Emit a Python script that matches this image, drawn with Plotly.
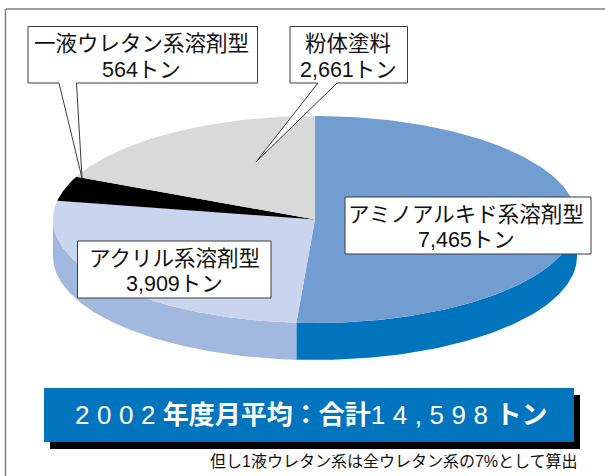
import math
import plotly.graph_objects as go

# Monthly average tonnage by paint type, FY2002
categories = ["アミノアルキド系溶剤型", "アクリル系溶剤型", "一液ウレタン系溶剤型", "粉体塗料"]
tonnes = [7465, 3909, 564, 2661]
total_tonnes = 14598
top_colors = ["#729DD1", "#C9D5EE", "#000000", "#D9D9D9"]
side_colors = ["#0075BE", "#A3B8DE", "#000000", "#D9D9D9"]

WIDTH, HEIGHT = 605, 476
CX, CY, RX, RY, DEPTH = 315, 219.5, 262, 103.5, 37
FONT = "Liberation Sans, Noto Sans CJK JP, sans-serif"


def rim(a0, a1, dy=0.0):
    """Points on the elliptical rim, with angles clockwise from 12 o'clock."""
    n = max(2, int(abs(a1 - a0)))
    angles = [a0 + (a1 - a0) * i / n for i in range(n + 1)]
    return ([CX + RX * math.sin(math.radians(a)) for a in angles],
            [CY - RY * math.cos(math.radians(a)) + dy for a in angles])


# Angular span of every slice, taken from its share of the sum
sum_t = sum(tonnes)
spans, start = [], 0.0
for t in tonnes:
    end = start + 360.0 * t / sum_t
    spans.append((start, end))
    start = end

fig = go.Figure()


def add_poly(xs, ys, color):
    fig.add_trace(go.Scatter(x=xs, y=ys, mode="lines", fill="toself", fillcolor=color,
                             line=dict(width=0, color=color), hoverinfo="skip", showlegend=False))


# Side wall: only the part of the rim facing the viewer (90 to 270 degrees)
for (a0, a1), col in zip(spans, side_colors):
    lo, hi = max(a0, 90), min(a1, 270)
    if lo < hi:
        tx, ty = rim(lo, hi)
        bx, by = rim(hi, lo, DEPTH)
        add_poly(tx + bx, ty + by, col)

# Top face
for (a0, a1), col in zip(spans, top_colors):
    ex, ey = rim(a0, a1)
    add_poly([CX] + ex + [CX], [CY] + ey + [CY], col)

BORDER = "#3C3C3C"
shapes = [
    # Frame edges
    dict(type="line", x0=5.5, x1=5.5, y0=9, y1=HEIGHT, line=dict(color="#7F7F7F", width=1.5)),
    dict(type="line", x0=5.5, x1=WIDTH, y0=9, y1=9, line=dict(color="#7F7F7F", width=1.5)),
    # Banner and its drop shadow
    dict(type="rect", x0=50, x1=580, y0=395, y1=449, fillcolor="#000000", line=dict(width=0)),
    dict(type="rect", x0=44, x1=574, y0=388, y1=442, fillcolor="#0075BE", line=dict(width=0)),
]

# Callouts: box corners plus the two tail roots and the tail tip
callouts = [
    dict(box=(28, 26.5, 257.5, 83), tail=(59, 76.5, 82, 178)),
    dict(box=(290, 26.5, 407.5, 83), tail=(318, 337, 256, 162)),
    dict(box=(345, 197, 591, 254), tail=None),
    dict(box=(77.5, 241, 271, 298), tail=None),
]
for c in callouts:
    x0, y0, x1, y1 = c["box"]
    path = f"M{x0},{y0} L{x1},{y0} L{x1},{y1} "
    if c["tail"]:
        t0, t1, tipx, tipy = c["tail"]
        path += f"L{t1},{y1} L{tipx},{tipy} L{t0},{y1} "
    path += f"L{x0},{y1} Z"
    shapes.append(dict(type="path", path=path, fillcolor="#FFFFFF",
                       line=dict(color=BORDER, width=1)))


def label(x, y, text, size=21, color="#111111", **kw):
    return dict(x=x, y=y, xref="x", yref="y", text=text, showarrow=False,
                font=dict(family=FONT, size=size, color=color), align="center", **kw)


# Each callout carries two separately placed lines: the name and the tonnage
label_anchors = {2: (141, 26.5), 3: (348, 26.5), 0: (466, 197), 1: (174, 241)}
annotations = []
for i, name in enumerate(categories):
    ax, top = label_anchors[i]
    annotations.append(label(ax, top + 17.5, name, size=21.5))
    annotations.append(label(ax, top + 43, f"{tonnes[i]:,}トン", size=21.5))

spaced = "letter-spacing:7.5px"
banner = (f'<span style="{spaced}">2002</span><b>年度月平均：合計</b>'
          f'<span style="{spaced}">{total_tonnes:,}</span><b>トン</b>')
annotations.append(label(311, 415, banner, size=26, color="#FFFFFF"))
annotations.append(label(393.5, 461, "但し1液ウレタン系は全ウレタン系の7%として算出", size=16))

fig.update_layout(
    width=WIDTH, height=HEIGHT, margin=dict(l=0, r=0, t=0, b=0),
    paper_bgcolor="#FFFFFF", plot_bgcolor="#FFFFFF", showlegend=False,
    xaxis=dict(range=[0, WIDTH], visible=False, fixedrange=True),
    yaxis=dict(range=[HEIGHT, 0], visible=False, fixedrange=True),
    shapes=shapes, annotations=annotations,
)
fig.write_html("out.html", config=dict(displayModeBar=False))
